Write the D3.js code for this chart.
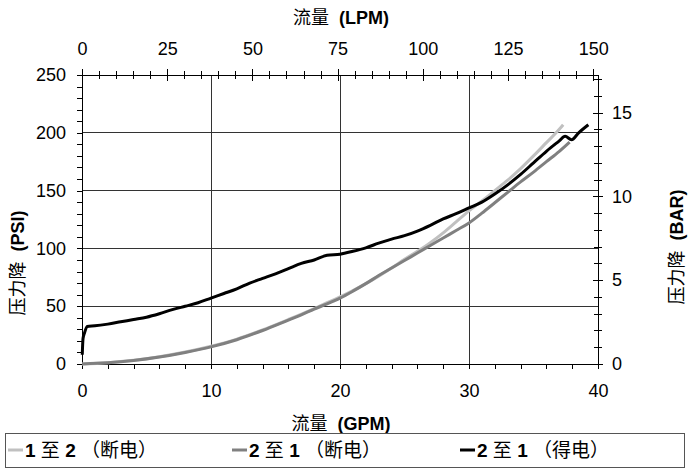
<!DOCTYPE html>
<html><head><meta charset="utf-8">
<script src="https://cdn.jsdelivr.net/npm/d3@7"></script>
<style>
body{margin:0;background:#fff;}
svg{display:block;font-family:"Liberation Sans",Arial,sans-serif;}
</style></head>
<body><svg id="c" width="688" height="472"></svg>
<script>
// ---- data (GPM vs pressure drop PSI) ----
const series1Gpm = [0,2,4,6,8,10,12,14,16,18,19,20,21,22,23,24,25,26,27,28,29,30,31,32,33,34,35,36,37,37.3];
const series1Psi = [0,1.1,3.2,6.3,10.3,15.3,21.5,29.5,38.5,48,53,58,63.5,69.5,76,83,90.5,97.5,105,113.5,123,132.5,141,150,159,169,180,191.5,203,207];

const series2Gpm = [0,2,4,6,8,10,12,14,16,17,18,19,20,21,22,23,24,25,26,27,28,29,30,31,32,33,34,35,36,37,37.8];
const series2Psi = [0,1,3,6,10,14.8,21,29,38,42.5,47.5,52,57,63,69.5,76.5,83,89.5,96,102.5,109,115.5,122,130.5,139.5,148.5,157.5,166,175,184,192];

const series3Gpm = [0.02,0.08,0.2,0.4,1,2,3,4,5,6,7,8,9,10,11,12,13,14,15,16,17,18,19,20,21,22,23,24,25,26,27,28,29,30,31,32,33,34,35,36,37,37.45,37.95,38.5,39.25];
const series3Psi = [8,22,27,32.5,33,34.5,36.5,38.5,40.5,43.5,47,50,53,57,61,65,70,74,78,82.5,87,90,94,95,97.5,100.5,104.5,108,111,115,120,125.5,130,135,140,147,155,164,174,184,193,197,194,200,207];

const seriesNames = ["1 至 2 （断电）","2 至 1 （断电）","2 至 1 （得电）"];
const seriesColors = ["#c0c0c0","#808080","#000000"];

const gpmTicks = [0,10,20,30,40];
const psiTicks = [0,50,100,150,200,250];
const lpmTicks = [0,25,50,75,100,125,150];
const barTicks = [0,5,10,15];

const LPM_PER_GPM = 3.785;
const PSI_PER_BAR = 14.5;

// ---- layout ----
const svg = d3.select("#c");
const L=82,R=598,T=75,B=364;
const TICK_FS = 18, TITLE_FS = 18, LEG_FS = 19;
const x = d3.scaleLinear().domain([0,40]).range([L,R]);
const y = d3.scaleLinear().domain([0,250]).range([B,T]);
const xTop = d3.scaleLinear().domain([0,40*LPM_PER_GPM]).range([L,R]);
const yRight = d3.scaleLinear().domain([0,250/PSI_PER_BAR]).range([B,T]);

// gridlines
const grid = svg.append("g").attr("stroke","#333").attr("stroke-width",1).attr("shape-rendering","crispEdges");
grid.selectAll(".gx").data(gpmTicks.filter(d=>d>0&&d<40)).join("line")
  .attr("x1",d=>x(d)).attr("x2",d=>x(d)).attr("y1",T).attr("y2",B);
grid.selectAll(".gy").data(psiTicks.filter(d=>d>0&&d<250)).join("line")
  .attr("x1",L).attr("x2",R).attr("y1",d=>y(d)).attr("y2",d=>y(d));

function styleAxis(g){
  g.selectAll("path,line").attr("stroke","#000").attr("shape-rendering","crispEdges");
  g.selectAll("text").attr("font-size",TICK_FS).attr("fill","#000").attr("font-family","'Liberation Sans',Arial,sans-serif");
}

// left axis
svg.append("g").attr("transform",`translate(${L},0)`)
  .call(d3.axisLeft(y).tickValues(d3.range(0,251,10)).tickFormat(()=> "").tickSize(5).tickSizeOuter(0)).call(styleAxis);
svg.append("g").attr("transform",`translate(${L},0)`)
  .call(d3.axisLeft(y).tickValues(psiTicks).tickSize(5).tickSizeOuter(0).tickPadding(11)).call(styleAxis);

// bottom axis
svg.append("g").attr("transform",`translate(0,${B})`)
  .call(d3.axisBottom(x).tickValues(d3.range(0,41,2)).tickFormat(()=> "").tickSize(5).tickSizeOuter(0)).call(styleAxis);
svg.append("g").attr("transform",`translate(0,${B})`)
  .call(d3.axisBottom(x).tickValues(gpmTicks).tickSize(5).tickSizeOuter(0).tickPadding(15)).call(styleAxis);

// top axis (LPM) - crossing ticks
const topMinor = svg.append("g").attr("transform",`translate(0,${T})`)
  .call(d3.axisTop(xTop).tickValues(d3.range(0,151,5)).tickFormat(()=> "").tickSize(4).tickSizeOuter(0)).call(styleAxis);
topMinor.selectAll(".tick line").attr("y2",-4).attr("y1",4);
const topMajor = svg.append("g").attr("transform",`translate(0,${T})`)
  .call(d3.axisTop(xTop).tickValues(lpmTicks).tickSize(5).tickSizeOuter(0).tickPadding(15)).call(styleAxis);
topMajor.selectAll(".tick line").attr("y2",-6).attr("y1",6);

// right axis (BAR) - crossing ticks
const rMinor = svg.append("g").attr("transform",`translate(${R},0)`)
  .call(d3.axisRight(yRight).tickValues(d3.range(0,18,1)).tickFormat(()=> "").tickSize(4).tickSizeOuter(0)).call(styleAxis);
rMinor.selectAll(".tick line").attr("x1",-4).attr("x2",4);
const rMajor = svg.append("g").attr("transform",`translate(${R},0)`)
  .call(d3.axisRight(yRight).tickValues(barTicks).tickSize(5).tickSizeOuter(0).tickPadding(9)).call(styleAxis);
rMajor.selectAll(".tick line").attr("x1",-5).attr("x2",5);

// series lines
const allSeries = [
  series1Gpm.map((g,i)=>[g,series1Psi[i]]),
  series2Gpm.map((g,i)=>[g,series2Psi[i]]),
  series3Gpm.map((g,i)=>[g,series3Psi[i]])
];
const line = d3.line().x(d=>x(d[0])).y(d=>y(d[1])).curve(d3.curveMonotoneX);
svg.append("g").selectAll("path").data(allSeries).join("path")
  .attr("d",line).attr("fill","none")
  .attr("stroke",(d,i)=>seriesColors[i]).attr("stroke-width",3)
  .attr("stroke-linejoin","round");

// mixed-weight text helper: Latin bold, CJK normal
function mixedText(g, str){
  const parts = str.match(/[\u3000-\u9fff\uff00-\uffef]+|[^\u3000-\u9fff\uff00-\uffef]+/g);
  parts.forEach(p=>{
    const cjk = /[\u3000-\u9fff\uff00-\uffef]/.test(p);
    g.append("tspan").text(p)
      .attr("font-family", cjk ? "'Noto Sans CJK SC',sans-serif" : "'Liberation Sans',Arial,sans-serif")
      .attr("font-weight", cjk ? "normal" : "bold");
  });
}

// axis titles
const t1 = svg.append("text").attr("x",341).attr("y",24).attr("text-anchor","middle").attr("font-size",TITLE_FS).attr("xml:space","preserve");
mixedText(t1,"流量  (LPM)");
const t2 = svg.append("text").attr("x",341).attr("y",430).attr("text-anchor","middle").attr("font-size",TITLE_FS).attr("xml:space","preserve");
mixedText(t2,"流量  (GPM)");
const t3 = svg.append("text").attr("transform","translate(24,263) rotate(-90)").attr("text-anchor","middle").attr("font-size",TITLE_FS).attr("xml:space","preserve");
mixedText(t3,"压力降  (PSI)");
const t4 = svg.append("text").attr("transform","translate(683,247) rotate(-90)").attr("text-anchor","middle").attr("font-size",TITLE_FS).attr("xml:space","preserve");
mixedText(t4,"压力降  (BAR)");

// legend
const lg = svg.append("g");
lg.append("rect").attr("x",5.5).attr("y",433.5).attr("width",679).attr("height",34)
  .attr("fill","none").attr("stroke","#555").attr("stroke-width",1);
const legX = [8,232,460];
seriesNames.forEach((n,i)=>{
  lg.append("line").attr("x1",legX[i]).attr("x2",legX[i]+15).attr("y1",450).attr("y2",450)
    .attr("stroke",seriesColors[i]).attr("stroke-width",3);
  const t = lg.append("text").attr("x",legX[i]+17).attr("y",457).attr("font-size",LEG_FS).attr("xml:space","preserve");
  mixedText(t,n);
});
</script></body></html>
